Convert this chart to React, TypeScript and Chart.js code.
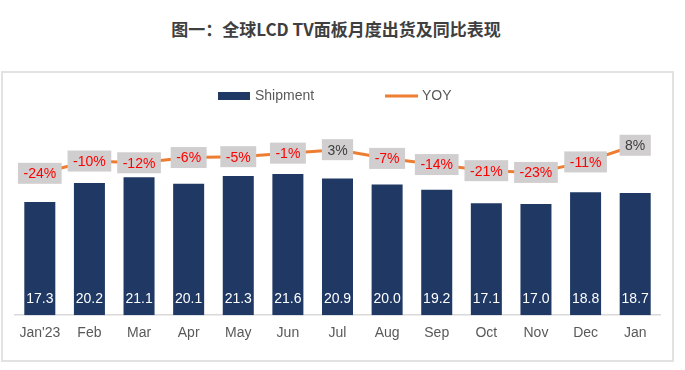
import React, { useEffect, useRef } from "react";
import { Chart, registerables } from "chart.js";

Chart.register(...registerables);

const categories = ["Jan'23", "Feb", "Mar", "Apr", "May", "Jun", "Jul", "Aug", "Sep", "Oct", "Nov", "Dec", "Jan"];
const shipment = [17.3, 20.2, 21.1, 20.1, 21.3, 21.6, 20.9, 20.0, 19.2, 17.1, 17.0, 18.8, 18.7];
const yoy = [-24, -10, -12, -6, -5, -1, 3, -7, -14, -21, -23, -11, 8];

const titleText = "图一：全球LCD TV面板月度出货及同比表现";
const seriesNames = ["Shipment", "YOY"];

const NAVY = "#1f3864";
const ORANGE = "#ed7d31";
const FONT = "'Liberation Sans', Arial, sans-serif";

const labelPlugin = {
  id: "customLabels",
  afterDatasetsDraw(chart: any) {
    const ctx = chart.ctx;
    ctx.save();
    const barMeta = chart.getDatasetMeta(1);
    const xAxisBottom = chart.chartArea.bottom;
    ctx.font = `14px ${FONT}`;
    ctx.textAlign = "center";
    ctx.textBaseline = "middle";
    ctx.fillStyle = "#ffffff";
    barMeta.data.forEach((el: any, i: number) => {
      ctx.fillText(shipment[i].toFixed(1), el.x, xAxisBottom - 16);
    });
    const lineMeta = chart.getDatasetMeta(0);
    lineMeta.data.forEach((el: any, i: number) => {
      const v = yoy[i];
      const txt = `${v}%`;
      const w = ctx.measureText(txt).width + 11;
      const h = 21;
      ctx.fillStyle = "#d0cece";
      ctx.fillRect(el.x - w / 2, el.y - h / 2, w, h);
      ctx.fillStyle = v < 0 ? "#ff0000" : "#404040";
      ctx.fillText(txt, el.x, el.y + 1);
    });
    ctx.restore();
  },
  afterDraw(chart: any) {
    const ctx = chart.ctx;
    ctx.save();
    const ly = 96;
    ctx.fillStyle = NAVY;
    ctx.fillRect(218, ly - 4, 32, 8);
    ctx.font = `14px ${FONT}`;
    ctx.textAlign = "left";
    ctx.textBaseline = "middle";
    ctx.fillStyle = "#595959";
    ctx.fillText(seriesNames[0], 255, ly);
    ctx.strokeStyle = ORANGE;
    ctx.lineWidth = 3;
    ctx.beginPath();
    ctx.moveTo(385, ly);
    ctx.lineTo(418, ly);
    ctx.stroke();
    ctx.fillText(seriesNames[1], 422, ly);
    ctx.restore();
  },
};

export default function App() {
  const ref = useRef<HTMLCanvasElement>(null);
  useEffect(() => {
    if (!ref.current) return;
    const chart = new Chart(ref.current, {
      type: "bar",
      data: {
        labels: categories,
        datasets: [
          {
            type: "line",
            label: seriesNames[1],
            data: yoy,
            yAxisID: "y2",
            borderColor: ORANGE,
            backgroundColor: ORANGE,
            borderWidth: 3,
            pointRadius: 0,
            tension: 0,
            order: 0,
          } as any,
          {
            type: "bar",
            label: seriesNames[0],
            data: shipment,
            yAxisID: "y",
            backgroundColor: NAVY,
            barPercentage: 0.625,
            categoryPercentage: 1,
            order: 1,
          },
        ],
      },
      options: {
        animation: false,
        responsive: false,
        maintainAspectRatio: false,
        layout: { padding: { left: 15, right: 25, top: 119, bottom: 18 } },
        plugins: { legend: { display: false }, tooltip: { enabled: false } },
        scales: {
          x: {
            grid: { display: false, drawTicks: false },
            border: { display: true, color: "#d9d9d9", width: 1.5 },
            ticks: { color: "#595959", font: { family: FONT, size: 14 }, padding: 10, maxRotation: 0, autoSkip: false },
          },
          y: { display: false, min: 0, max: 30 },
          y2: { display: false, min: -186, max: 38 },
        },
      },
      plugins: [labelPlugin],
    });
    return () => chart.destroy();
  }, []);

  return (
    <div style={{ position: "fixed", left: 0, top: 0, width: 685, height: 370, background: "#fff" }}>
      <div
        style={{
          position: "absolute",
          left: 0,
          top: 17,
          width: 672,
          textAlign: "center",
          fontFamily: "'Noto Sans CJK SC', sans-serif",
          fontWeight: 700,
          fontSize: 17,
          lineHeight: "24px",
          color: "#3f3f3f",
        }}
      >
        {titleText}
      </div>
      <div
        style={{
          position: "absolute",
          left: 1,
          top: 71,
          width: 673,
          height: 291,
          border: "2px solid #e2e2e2",
          boxSizing: "border-box",
        }}
      />
      <canvas ref={ref} width={685} height={370} style={{ position: "absolute", left: 0, top: 0 }} />
    </div>
  );
}
